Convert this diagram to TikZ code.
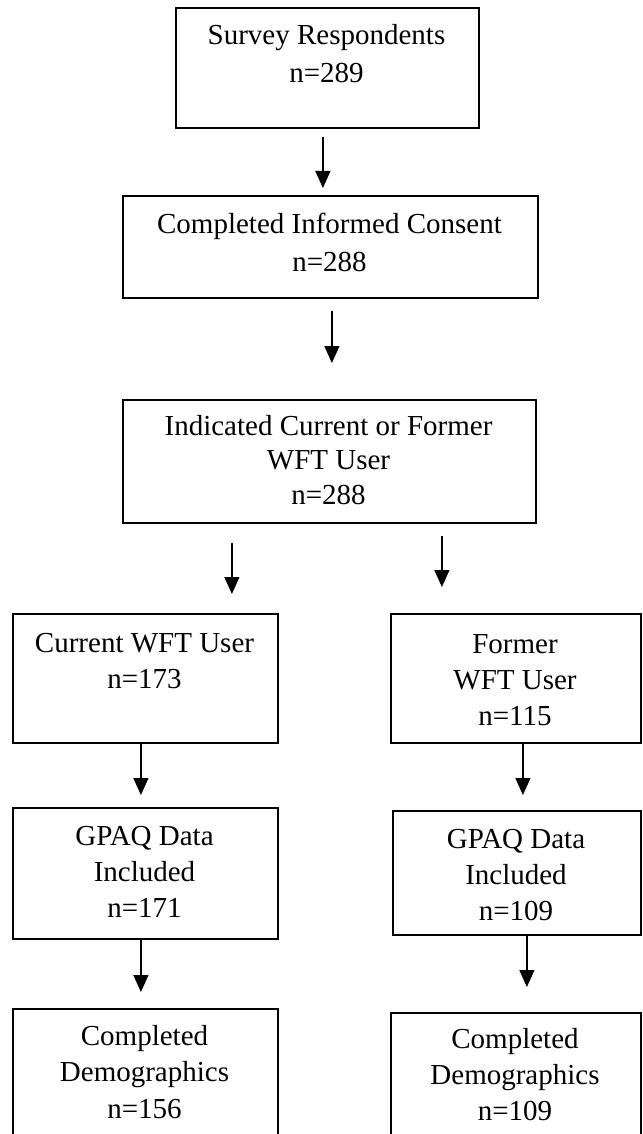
\documentclass[tikz,border=0pt]{standalone}
\usepackage{fontspec}
\setmainfont{Liberation Serif}
\usetikzlibrary{arrows.meta}
\begin{document}
\begin{tikzpicture}[x=1pt,y=-1pt,
  box/.style={draw=black, line width=1.8pt, inner sep=0pt, anchor=north west},
  lbl/.style={align=center, anchor=base, inner sep=0pt, font=\fontsize{29}{#1}\selectfont},
  arr/.style={-{Triangle[width=15pt,length=17pt]}, line width=1.2pt},
]
\clip (0,0) rectangle (642,1134);

% stage boxes
\node[box, minimum width=303pt, minimum height=120pt] (b1) at (175,7) {};
\node[box, minimum width=415pt, minimum height=102pt] (b2) at (122,195) {};
\node[box, minimum width=413pt, minimum height=123pt] (b3) at (122,399) {};
\node[box, minimum width=265pt, minimum height=129pt] (b4) at (12,613) {};
\node[box, minimum width=250pt, minimum height=129pt] (b5) at (390,613) {};
\node[box, minimum width=265pt, minimum height=131pt] (b6) at (12,807) {};
\node[box, minimum width=248pt, minimum height=124pt] (b7) at (392,810) {};
\node[box, minimum width=265pt, minimum height=140pt] (b8) at (12,1008) {};
\node[box, minimum width=250pt, minimum height=140pt] (b9) at (390,1012) {};

% box texts (anchored at the baseline of the last line)
\node[lbl=38] (t1) at (326.5,83) {Survey Respondents\\n=289};
\node[lbl=38] (t2) at (329.5,271) {Completed Informed Consent\\n=288};
\node[lbl=34.5] (t3) at (328.5,504) {Indicated Current or Former\\WFT User\\n=288};
\node[lbl=36] (t4) at (144.5,688) {Current WFT User\\n=173};
\node[lbl=36] (t5) at (515,725) {Former\\WFT User\\n=115};
\node[lbl=36] (t6) at (144.5,917) {GPAQ Data\\Included\\n=171};
\node[lbl=36] (t7) at (516,920) {GPAQ Data\\Included\\n=109};
\node[lbl=36.5] (t8) at (144.5,1118) {Completed\\Demographics\\n=156};
\node[lbl=36] (t9) at (515,1120) {Completed\\Demographics\\n=109};

% flow arrows
\draw[arr] ([xshift=-4.5pt,yshift=-8pt]b1.south) -- ([xshift=-7.5pt,yshift=7pt]b2.north);
\draw[arr] ([xshift=1.5pt,yshift=-12pt]b2.south) -- ([xshift=2.5pt,yshift=36pt]b3.north);
\draw[arr] ([xshift=-97.5pt,yshift=-19pt]b3.south) -- ([xshift=86.5pt,yshift=19pt]b4.north);
\draw[arr] ([xshift=112.5pt,yshift=-12pt]b3.south) -- ([xshift=-74pt,yshift=26pt]b5.north);
\draw[arr] ([xshift=-4.5pt]b4.south) -- ([xshift=-4.5pt,yshift=12pt]b6.north);
\draw[arr] ([xshift=7pt]b5.south) -- ([xshift=6pt,yshift=15pt]b7.north);
\draw[arr] ([xshift=-4.5pt]b6.south) -- ([xshift=-4.5pt,yshift=16pt]b8.north);
\draw[arr] ([xshift=10pt]b7.south) -- ([xshift=11pt,yshift=25pt]b9.north);
\end{tikzpicture}
\end{document}
